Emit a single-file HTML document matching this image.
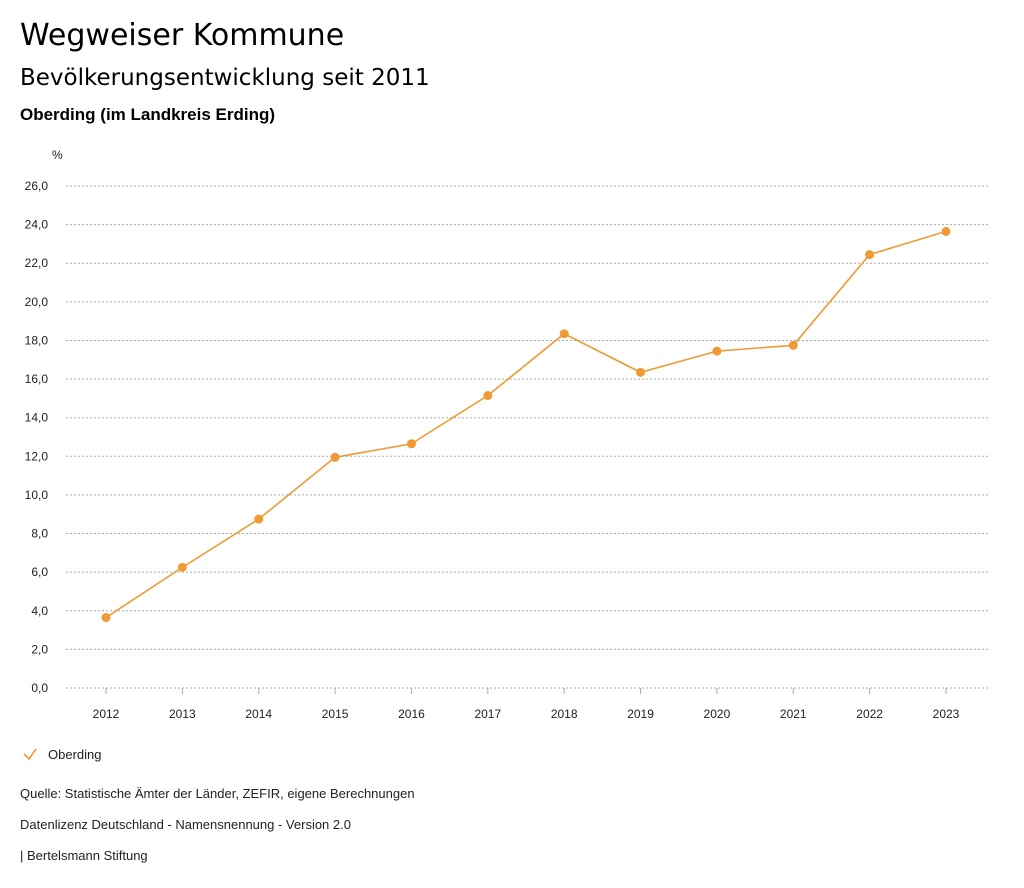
<!DOCTYPE html>
<html><head><meta charset="utf-8">
<style>
body{margin:0;background:#fff;width:1024px;height:888px;overflow:hidden;font-family:"DejaVu Sans","Liberation Sans",sans-serif;color:#000}
.t{position:absolute;left:20px;white-space:nowrap}
.s{font-family:"Liberation Sans",sans-serif;font-size:13px;color:#222}
</style></head><body>
<div class="t" style="top:18px;font-size:30px">Wegweiser Kommune</div>
<div class="t" style="top:65px;font-size:23px">Bevölkerungsentwicklung seit 2011</div>
<div class="t" style="top:105px;font-size:17px;font-weight:bold;font-family:'Liberation Sans',sans-serif">Oberding (im Landkreis Erding)</div>
<svg width="1024" height="888" style="position:absolute;left:0;top:0">
<text x="52" y="159" font-size="12" font-family="Liberation Sans,sans-serif" fill="#222">%</text>
<g id="grid"></g><g id="xt"></g><g id="series"></g>
<g>
<polyline points="24,754 29,759 36,749" fill="none" stroke="#ef9a34" stroke-width="1.6"/>
<text x="48" y="759" font-size="13" font-family="Liberation Sans,sans-serif" fill="#222">Oberding</text></g>
</svg>
<div class="t s" style="top:786px">Quelle: Statistische Ämter der Länder, ZEFIR, eigene Berechnungen</div>
<div class="t s" style="top:817px">Datenlizenz Deutschland - Namensnennung - Version 2.0</div>
<div class="t s" style="top:848px">| Bertelsmann Stiftung</div>
<script>
const years=[2012,2013,2014,2015,2016,2017,2018,2019,2020,2021,2022,2023];
const values=[3.7,6.3,8.8,12.0,12.7,15.2,18.4,16.4,17.5,17.8,22.5,23.7];
const yTicks=[0,2,4,6,8,10,12,14,16,18,20,22,24,26];
const NS="http://www.w3.org/2000/svg";
const y=v=>688-v*(502/26);
const x=i=>106+i*(840/11);
function mk(t,a,p){const e=document.createElementNS(NS,t);for(const k in a)e.setAttribute(k,a[k]);p.appendChild(e);return e;}
const g=document.getElementById('grid');
yTicks.forEach(v=>{
 const l=mk('line',{x1:66,x2:990,y1:y(v),y2:y(v),stroke:'#aaa','stroke-dasharray':'2,2'},g);
 
 
 const t=mk('text',{x:48,y:y(v)+4,'text-anchor':'end','font-size':12,'font-family':'Liberation Sans,sans-serif',fill:'#222'},g);
 t.textContent=v.toFixed(1).replace('.',',');
 
 
});
const xt=document.getElementById('xt');
years.forEach((yr,i)=>{
 const tk=mk('line',{x1:x(i),x2:x(i),y1:688,y2:694,stroke:'#aaa'},xt);
 
 
 const t=mk('text',{x:x(i),y:718,'text-anchor':'middle','font-size':12,'font-family':'Liberation Sans,sans-serif',fill:'#222'},xt);
 t.textContent=yr;
 
 
});
const s=document.getElementById('series');
const pl=mk('polyline',{points:values.map((v,i)=>x(i)+','+(y(v)+1)).join(' '),fill:'none',stroke:'#ef9a34','stroke-width':1.6},s);


values.forEach((v,i)=>{
 const c=mk('circle',{cx:x(i),cy:y(v)+1,r:4.5,fill:'#ef9a34'},s);
 
 
});
</script>
</body></html>
